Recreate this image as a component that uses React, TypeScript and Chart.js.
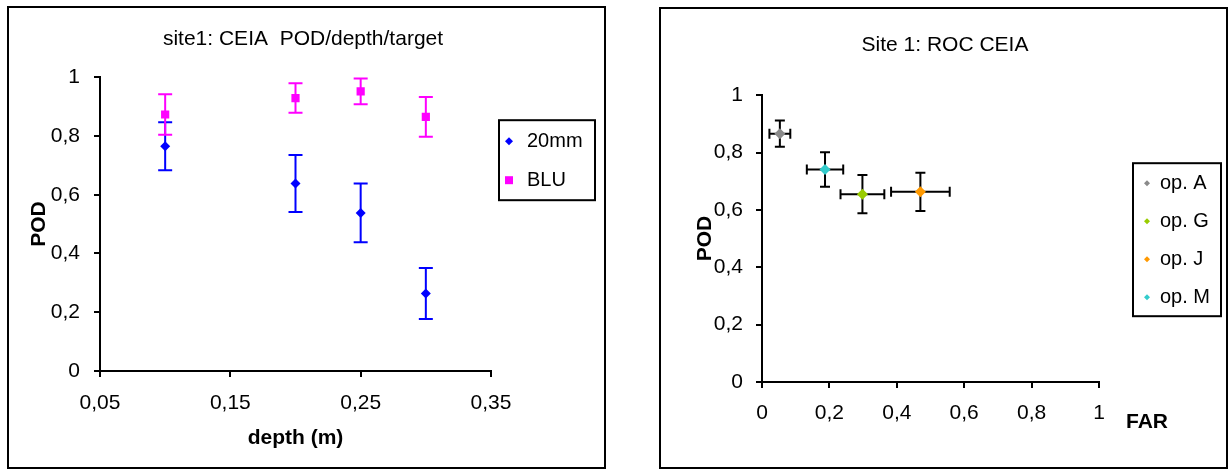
import React, { useEffect, useRef } from 'react';
import { Chart, layouts, registerables } from 'chart.js';

Chart.register(...registerables);

const FONT = "'Liberation Sans', Arial, Helvetica, sans-serif";

// Site 1, CEIA detector: probability of detection against burial depth, per target
const DEPTHS = [0.1, 0.2, 0.25, 0.3];
const POD_20MM = [0.765, 0.638, 0.538, 0.264];
const ERR_20MM = [0.082, 0.097, 0.1, 0.087];
const POD_BLU = [0.873, 0.929, 0.952, 0.865];
const ERR_BLU = [0.069, 0.05, 0.044, 0.068];
const DEPTH_TICKS = [0.05, 0.15, 0.25, 0.35];
const POD_TICKS = [0, 0.2, 0.4, 0.6, 0.8, 1];

// Site 1, CEIA detector: ROC operating point of each operator
const OPERATORS = ['op. A', 'op. G', 'op. J', 'op. M'];
const FAR_VALUES = [0.053, 0.298, 0.47, 0.187];
const FAR_ERR = [0.031, 0.065, 0.087, 0.054];
const ROC_POD = [0.866, 0.655, 0.663, 0.741];
const ROC_POD_ERR = [0.046, 0.067, 0.067, 0.06];
const FAR_TICKS = [0, 0.2, 0.4, 0.6, 0.8, 1];

const OPERATOR_COLORS = ['#8a8a8a', '#99cc00', '#ff9900', '#33cccc'];

// decimal comma, as printed on the axes
const fmt = (v: number) => String(Number(v.toFixed(2))).replace('.', ',');

type ErrPoint = { x: number; y: number; xErr?: number; yErr?: number };

// Draws symmetric error bars (with caps) behind the markers, using the chart's scales.
const errorBarsPlugin: any = {
  id: 'errorBars',
  beforeDatasetsDraw(chart: any, _args: any, opts: any) {
    const { ctx } = chart;
    const xs = chart.scales.x;
    const ys = chart.scales.y;
    const cap = opts.capHalf ?? 5;
    ctx.save();
    ctx.lineWidth = opts.lineWidth ?? 2;
    ctx.lineCap = 'butt';
    chart.data.datasets.forEach((ds: any, di: number) => {
      if (!chart.isDatasetVisible(di)) return;
      ctx.strokeStyle = opts.color ?? ds.borderColor;
      (ds.data as ErrPoint[]).forEach((p) => {
        const px = xs.getPixelForValue(p.x);
        const py = ys.getPixelForValue(p.y);
        ctx.beginPath();
        if (p.yErr) {
          const t = ys.getPixelForValue(p.y + p.yErr);
          const b = ys.getPixelForValue(p.y - p.yErr);
          ctx.moveTo(px, t);
          ctx.lineTo(px, b);
          ctx.moveTo(px - cap, t);
          ctx.lineTo(px + cap, t);
          ctx.moveTo(px - cap, b);
          ctx.lineTo(px + cap, b);
        }
        if (p.xErr) {
          const l = xs.getPixelForValue(p.x - p.xErr);
          const r = xs.getPixelForValue(p.x + p.xErr);
          ctx.moveTo(l, py);
          ctx.lineTo(r, py);
          ctx.moveTo(l, py - cap);
          ctx.lineTo(l, py + cap);
          ctx.moveTo(r, py - cap);
          ctx.lineTo(r, py + cap);
        }
        ctx.stroke();
      });
    });
    ctx.restore();
  },
};

function drawMarker(ctx: CanvasRenderingContext2D, style: string, x: number, y: number, r: number, color: string) {
  ctx.fillStyle = color;
  ctx.beginPath();
  if (style === 'rect') {
    ctx.rect(x - r, y - r, 2 * r, 2 * r);
  } else {
    ctx.moveTo(x, y - r);
    ctx.lineTo(x + r, y);
    ctx.lineTo(x, y + r);
    ctx.lineTo(x - r, y);
    ctx.closePath();
  }
  ctx.fill();
}

// A framed legend that reserves a column to the right of the plot area.
const boxedLegendPlugin: any = {
  id: 'boxedLegend',
  start(chart: any, _args: any, opts: any) {
    const box: any = {
      position: 'right',
      weight: 0,
      fullSize: false,
      options: { stackWeight: 1 },
      left: 0,
      top: 0,
      right: 0,
      bottom: 0,
      width: 0,
      height: 0,
      legendOpts: opts,
      isHorizontal: () => false,
      update(_maxWidth: number, maxHeight: number) {
        box.width = box.legendOpts.reserve;
        box.height = maxHeight;
      },
      draw() {
        const o = box.legendOpts;
        const { ctx } = chart;
        const x0 = box.left + o.offsetX;
        const y0 = chart.chartArea.top + o.offsetY;
        ctx.save();
        ctx.lineWidth = o.borderWidth;
        ctx.strokeStyle = '#000';
        ctx.strokeRect(x0, y0, o.width, o.height);
        ctx.font = `${o.fontSize}px ${FONT}`;
        ctx.textBaseline = 'middle';
        ctx.textAlign = 'left';
        chart.data.datasets.forEach((ds: any, i: number) => {
          const cy = y0 + o.firstRow + i * o.rowHeight;
          drawMarker(ctx, ds.pointStyle, x0 + o.markerX, cy, o.markerRadius, ds.backgroundColor);
          ctx.fillStyle = '#000';
          ctx.fillText(ds.label, x0 + o.textX, cy);
        });
        ctx.restore();
      },
    };
    layouts.addBox(chart, box);
    chart.$boxedLegend = box;
  },
  beforeUpdate(chart: any, _args: any, opts: any) {
    if (chart.$boxedLegend) chart.$boxedLegend.legendOpts = opts;
  },
  stop(chart: any) {
    if (chart.$boxedLegend) layouts.removeBox(chart, chart.$boxedLegend);
    delete chart.$boxedLegend;
  },
};

// Axis title written past the right end of the x axis.
const sideAxisTitlePlugin: any = {
  id: 'sideAxisTitle',
  afterDraw(chart: any, _args: any, o: any) {
    if (!o.text) return;
    const { ctx, chartArea } = chart;
    ctx.save();
    ctx.font = `bold ${o.size}px ${FONT}`;
    ctx.fillStyle = '#000';
    ctx.textBaseline = 'middle';
    ctx.textAlign = 'left';
    ctx.fillText(o.text, chartArea.right + o.dx, chartArea.bottom + o.dy);
    ctx.restore();
  },
};

const axisLine = { display: true, color: '#000', width: 2 };
const axisTicks = { drawOnChartArea: false, drawTicks: true, tickLength: 6, color: '#000', lineWidth: 2 };
const tickFont = { family: FONT, size: 21 };
const axisTitleFont = { family: FONT, size: 21, weight: 'bold' as const };

function depthConfig(): any {
  return {
    type: 'scatter',
    data: {
      datasets: [
        {
          label: '20mm',
          data: DEPTHS.map((x, i) => ({ x, y: POD_20MM[i], yErr: ERR_20MM[i] })),
          pointStyle: 'rectRot',
          pointRadius: 5,
          backgroundColor: '#0000ff',
          borderColor: '#0000ff',
          borderWidth: 0,
        },
        {
          label: 'BLU',
          data: DEPTHS.map((x, i) => ({ x, y: POD_BLU[i], yErr: ERR_BLU[i] })),
          pointStyle: 'rect',
          pointRadius: 5.8,
          backgroundColor: '#ff00ff',
          borderColor: '#ff00ff',
          borderWidth: 0,
        },
      ],
    },
    options: {
      responsive: false,
      animation: false,
      devicePixelRatio: 1,
      events: [],
      layout: { padding: { left: 18, right: 25, top: 0, bottom: 16 } },
      plugins: {
        legend: { display: false },
        tooltip: { enabled: false },
        title: {
          display: true,
          text: 'site1: CEIA  POD/depth/target',
          color: '#000',
          font: { family: FONT, size: 21, weight: 'normal' },
          padding: { top: 19, bottom: 25 },
        },
        errorBars: { lineWidth: 2, capHalf: 7 },
        boxedLegend: {
          reserve: 88,
          offsetX: 8,
          offsetY: 43,
          width: 96,
          height: 80,
          firstRow: 21,
          rowHeight: 39,
          markerX: 10,
          textX: 28,
          markerRadius: 4,
          fontSize: 20,
          borderWidth: 2,
        },
      },
      scales: {
        x: {
          type: 'linear',
          min: 0.05,
          max: 0.35,
          afterBuildTicks: (s: any) => {
            s.ticks = DEPTH_TICKS.map((value) => ({ value }));
          },
          afterFit: (s: any) => {
            s.height = 80;
          },
          border: axisLine,
          grid: axisTicks,
          ticks: { color: '#000', font: tickFont, padding: 14, maxRotation: 0, callback: (v: any) => fmt(Number(v)) },
          title: { display: true, text: 'depth (m)', color: '#000', font: axisTitleFont, padding: 0 },
        },
        y: {
          type: 'linear',
          min: 0,
          max: 1,
          afterBuildTicks: (s: any) => {
            s.ticks = POD_TICKS.map((value) => ({ value }));
          },
          afterFit: (s: any) => {
            s.width = 73;
          },
          border: axisLine,
          grid: axisTicks,
          ticks: { color: '#000', font: tickFont, padding: 14, callback: (v: any) => fmt(Number(v)) },
          title: { display: true, text: 'POD', color: '#000', font: axisTitleFont, padding: 0 },
        },
      },
    },
    plugins: [errorBarsPlugin, boxedLegendPlugin],
  };
}

function rocConfig(): any {
  return {
    type: 'scatter',
    data: {
      datasets: OPERATORS.map((label, i) => ({
        label,
        data: [{ x: FAR_VALUES[i], y: ROC_POD[i], xErr: FAR_ERR[i], yErr: ROC_POD_ERR[i] }],
        pointStyle: 'rectRot',
        pointRadius: 5.5,
        backgroundColor: OPERATOR_COLORS[i],
        borderColor: OPERATOR_COLORS[i],
        borderWidth: 0,
      })),
    },
    options: {
      responsive: false,
      animation: false,
      devicePixelRatio: 1,
      events: [],
      layout: { padding: { left: 32, right: 29, top: 0, bottom: 0 } },
      plugins: {
        legend: { display: false },
        tooltip: { enabled: false },
        title: {
          display: true,
          text: 'Site 1: ROC CEIA',
          color: '#000',
          font: { family: FONT, size: 21, weight: 'normal' },
          padding: { top: 24, bottom: 37 },
        },
        errorBars: { lineWidth: 2, capHalf: 5, color: '#000' },
        boxedLegend: {
          reserve: 98,
          offsetX: 34,
          offsetY: 68,
          width: 88,
          height: 153,
          firstRow: 20,
          rowHeight: 38,
          markerX: 14,
          textX: 27,
          markerRadius: 3,
          fontSize: 20,
          borderWidth: 2,
        },
        sideAxisTitle: { text: 'FAR', dx: 27, dy: 40, size: 21 },
      },
      scales: {
        x: {
          type: 'linear',
          min: 0,
          max: 1,
          afterBuildTicks: (s: any) => {
            s.ticks = FAR_TICKS.map((value) => ({ value }));
          },
          afterFit: (s: any) => {
            s.height = 85;
          },
          border: axisLine,
          grid: axisTicks,
          ticks: { color: '#000', font: tickFont, padding: 13, maxRotation: 0, callback: (v: any) => fmt(Number(v)) },
        },
        y: {
          type: 'linear',
          min: 0,
          max: 1,
          afterBuildTicks: (s: any) => {
            s.ticks = POD_TICKS.map((value) => ({ value }));
          },
          afterFit: (s: any) => {
            s.width = 69;
          },
          border: axisLine,
          grid: axisTicks,
          ticks: { color: '#000', font: tickFont, padding: 13, callback: (v: any) => fmt(Number(v)) },
          title: { display: true, text: 'POD', color: '#000', font: axisTitleFont, padding: 0 },
        },
      },
    },
    plugins: [errorBarsPlugin, boxedLegendPlugin, sideAxisTitlePlugin],
  };
}

function ChartCanvas({ config, width, height }: { config: () => any; width: number; height: number }) {
  const ref = useRef<HTMLCanvasElement>(null);
  useEffect(() => {
    const chart = new Chart(ref.current as HTMLCanvasElement, config());
    return () => chart.destroy();
  }, [config]);
  return <canvas ref={ref} width={width} height={height} style={{ display: 'block', width, height }} />;
}

const frame: React.CSSProperties = {
  position: 'absolute',
  border: '2px solid #000',
  boxSizing: 'border-box',
  background: '#fff',
};

export default function App() {
  return (
    <div style={{ position: 'fixed', left: 0, top: 0, width: 1229, height: 469, background: '#fff', overflow: 'hidden' }}>
      <div style={{ ...frame, left: 7, top: 6, width: 599, height: 463 }}>
        <ChartCanvas config={depthConfig} width={595} height={459} />
      </div>
      <div style={{ ...frame, left: 659, top: 7, width: 569, height: 462 }}>
        <ChartCanvas config={rocConfig} width={565} height={458} />
      </div>
    </div>
  );
}
